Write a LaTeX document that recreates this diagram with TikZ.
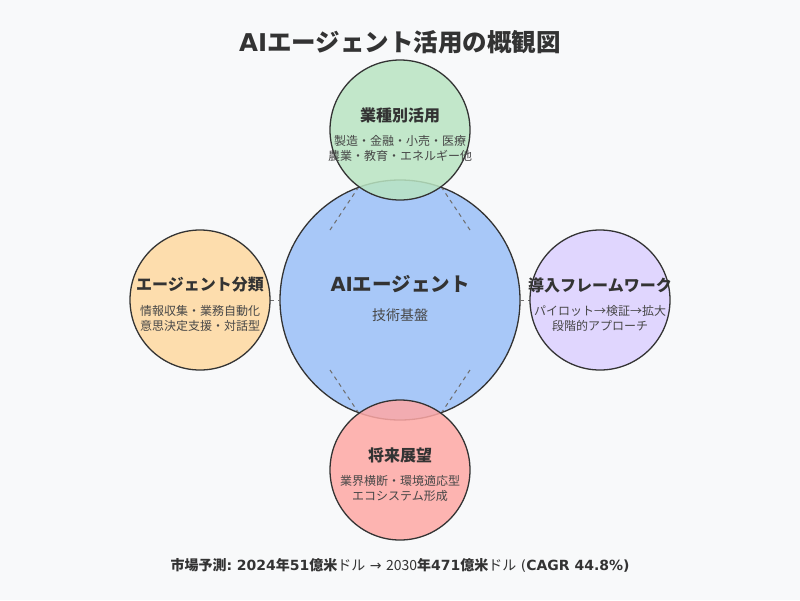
\documentclass[tikz,border=0pt]{standalone}
\usepackage{fontspec}
\setmainfont{Noto Sans CJK JP}
\newfontfamily\dv{DejaVu Sans}
\definecolor{bg}{HTML}{F8F9FA}
\definecolor{txt}{HTML}{333333}
\definecolor{cblue}{HTML}{A8C8F8}
\definecolor{cgreen}{HTML}{B9E5C2}
\definecolor{corange}{HTML}{FFD9A0}
\definecolor{cpurple}{HTML}{DCD0FF}
\definecolor{cred}{HTML}{FFA8A5}
\tikzset{
  x=1pt, y=-1pt,
  circ/.style={circle, draw=txt, line width=1.3pt, inner sep=0pt},
  outer/.style={circ, minimum size=140pt, fill opacity=0.85, draw opacity=1},
  ttl/.style={text=txt, font=\bfseries\fontsize{16}{18}\selectfont, inner sep=0pt},
  sub/.style={text=txt!90, font=\fontsize{12}{15}\selectfont, align=center, inner sep=0pt},
  conn/.style={draw=txt!70, dashed, line width=1pt, dash pattern=on 4pt off 4pt},
}
\begin{document}
\begin{tikzpicture}
\fill[bg] (0,0) rectangle (800,600);
\useasboundingbox (0,0) rectangle (800,600);
\node[text=txt, font=\bfseries\fontsize{24.5}{28}\selectfont] (title) at (400,42) {{\dv AI}エージェント活用の概観図};
% central
\node[circ, fill=cblue, minimum size=240pt] (c) at (400,300) {};
% connectors
\coordinate (t1a) at (330,230); \coordinate (t1b) at (358,188);
\coordinate (t2a) at (470,230); \coordinate (t2b) at (442,188);
\coordinate (b1a) at (330,370); \coordinate (b1b) at (358,412);
\coordinate (b2a) at (470,370); \coordinate (b2b) at (442,412);
\coordinate (l1) at (270,300); \coordinate (l2) at (280,300);
\coordinate (r1) at (520,300); \coordinate (r2) at (530,300);
\draw[conn] (t1a) -- (t1b);
\draw[conn] (t2a) -- (t2b);
\draw[conn] (b1a) -- (b1b);
\draw[conn] (b2a) -- (b2b);
\draw[conn] (l1) -- (l2);
\draw[conn] (r1) -- (r2);
% outer circles
\node[outer, fill=cgreen] (top) at (400,130) {};
\node[outer, fill=corange] (left) at (200,300) {};
\node[outer, fill=cpurple] (right) at (600,300) {};
\node[outer, fill=cred] (bot) at (400,470) {};
% texts
\node[text=txt, font=\bfseries\fontsize{19.5}{22}\selectfont, inner sep=0pt] (ct) at (400,284) {{\dv AI}エージェント};
\node[text=txt!90, font=\fontsize{14}{16}\selectfont, inner sep=0pt] (cs) at (400,315) {技術基盤};
\node[ttl] (tt) at (400,115) {業種別活用};
\node[sub] (ts) at (400,148.5) {製造・金融・小売・医療\\農業・教育・エネルギー他};
\node[ttl] (lt) at (200,285) {エージェント分類};
\node[sub] (ls) at (200,318.5) {情報収集・業務自動化\\意思決定支援・対話型};
\node[ttl] (rt) at (600,285) {導入フレームワーク};
\node[sub] (rs) at (600,318.5) {パイロット→検証→拡大\\段階的アプローチ};
\node[ttl] (bt) at (400,455) {将来展望};
\node[sub] (bs) at (400,488.5) {業界横断・環境適応型\\エコシステム形成};
\node[text=txt, font=\fontsize{14}{16}\selectfont, inner sep=0pt] (foot) at (400,565)
 {\bfseries 市場予測{\dv :\ 2024}年{\dv 51}億米\mdseries ドル{\dv \ →\ }2030\bfseries 年{\dv 471}億米\mdseries ドル{\dv \ (}\bfseries{\dv CAGR 44.8\%)}};
\end{tikzpicture}
\end{document}
